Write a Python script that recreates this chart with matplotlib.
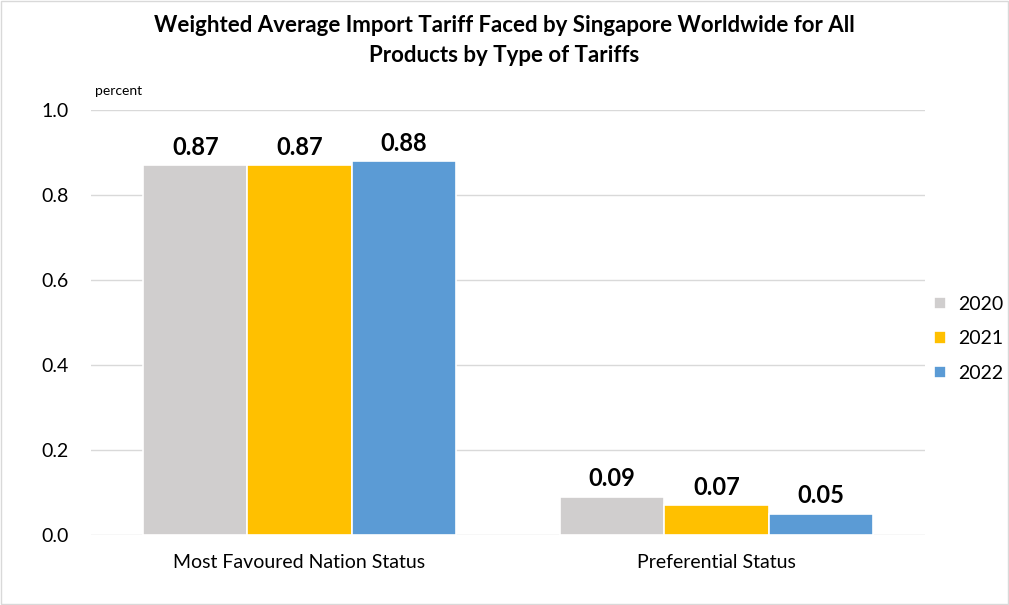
import numpy as np
import matplotlib.pyplot as plt
from matplotlib.patches import Rectangle

categories = ['Most Favoured Nation Status', 'Preferential Status']
years = ['2020', '2021', '2022']
values_2020 = [0.87, 0.09]
values_2021 = [0.87, 0.07]
values_2022 = [0.88, 0.05]
colors = ['#D0CECE', '#FFC000', '#5B9BD5']

plt.rcParams['font.family'] = ['Lato', 'DejaVu Sans']

fig = plt.figure(figsize=(10.09, 6.05), dpi=100)
ax = fig.add_axes([0.0902, 0.1157, 0.8265, 0.7025])

x = np.arange(len(categories))
w = 0.25
series = [values_2020, values_2021, values_2022]
for i, (vals, yr, c) in enumerate(zip(series, years, colors)):
    pos = x + (i - 1) * w
    ax.bar(pos, vals, w, color=c, edgecolor='white', linewidth=1.2, label=yr, zorder=3)
    for p, v in zip(pos, vals):
        ax.text(p, v + 0.015, f'{v:.2f}', ha='center', va='bottom',
                fontsize=17, fontweight='bold')

ax.set_xlim(-0.5, 1.5)
ax.set_ylim(0, 1.0)
ax.set_yticks(np.arange(0, 1.01, 0.2))
ax.set_yticklabels([f'{t:.1f}' for t in np.arange(0, 1.01, 0.2)])
ax.set_xticks(x)
ax.set_xticklabels(categories)
ax.tick_params(axis='both', length=0, labelsize=14)
ax.tick_params(axis='x', pad=14)
ax.tick_params(axis='y', pad=16)
ax.grid(axis='y', color='#D9D9D9', linewidth=1, zorder=0)
for s in ax.spines.values():
    s.set_visible(False)

ax.text(0.005, 1.03, 'percent', transform=ax.transAxes, fontsize=10, ha='left', va='bottom')

fig.suptitle('Weighted Average Import Tariff Faced by Singapore Worldwide for All\nProducts by Type of Tariffs',
             x=0.5, y=0.975, fontsize=16, fontweight='bold', linespacing=1.55)

fig.legend(loc='center left', bbox_to_anchor=(0.926, 0.44), frameon=False,
           fontsize=14, handlelength=0.6, handleheight=0.6, handletextpad=0.6,
           labelspacing=0.9, borderpad=0, borderaxespad=0)

fig.patches.append(Rectangle((0.001, 0.001), 0.998, 0.997, transform=fig.transFigure,
                             fill=False, edgecolor='#D9D9D9', linewidth=1))

fig.savefig('out.png', dpi=100)
